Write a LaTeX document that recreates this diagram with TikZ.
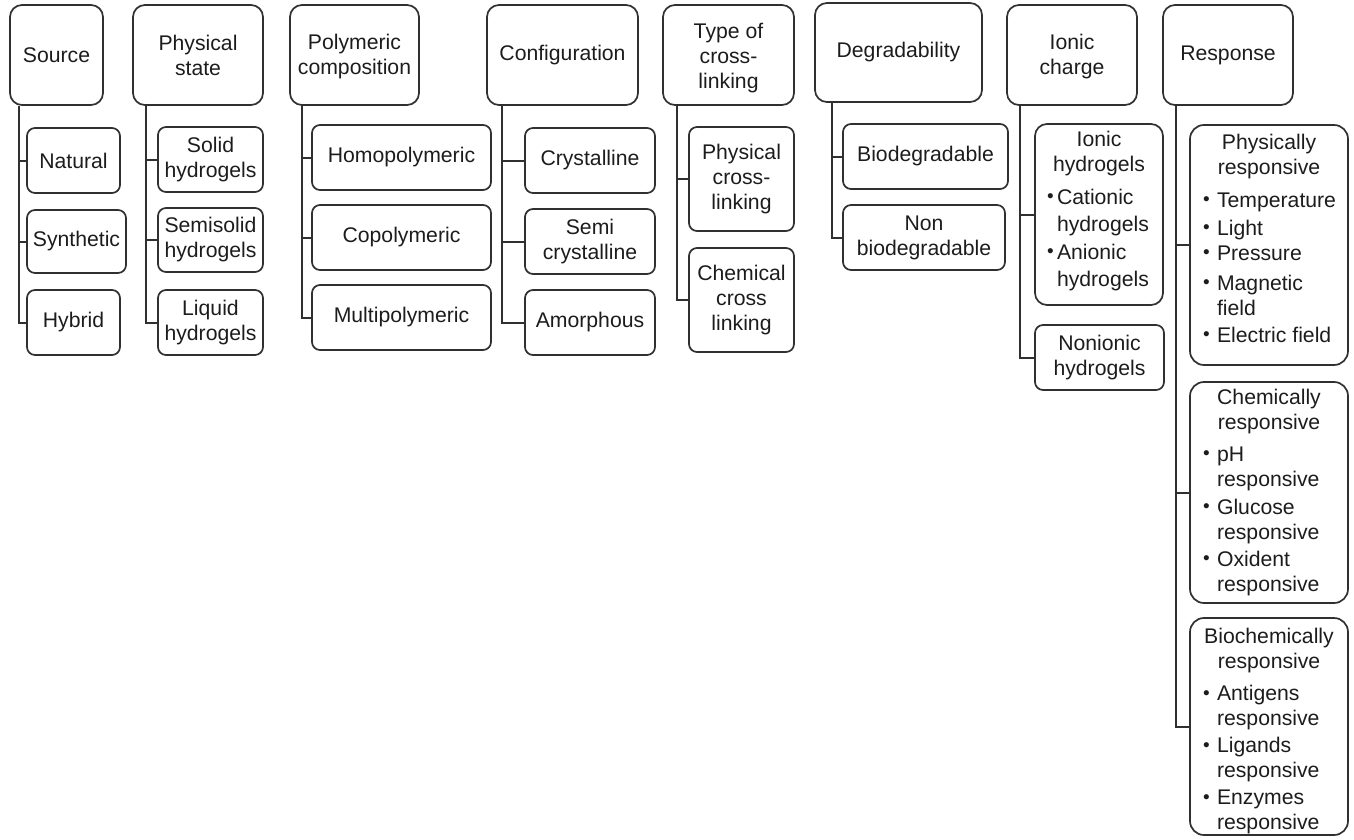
\documentclass[tikz,border=0pt]{standalone}
\usepackage{fontspec}
\setmainfont{Liberation Sans}
\definecolor{ln}{HTML}{303030}
\definecolor{tx}{HTML}{1c1c1c}
\newcommand{\hdr}[1]{\multicolumn{2}{c}{\makebox[0pt]{#1}}}
\newcommand{\bt}{\raisebox{0.1ex}{\fontsize{19}{19}\selectfont\textbullet}}
\newcommand{\shiftup}[2]{\raisebox{#1}[\height][\depth]{#2}}
\begin{document}
\begin{tikzpicture}[x=1pt,y=-1pt,
  font=\fontsize{21.2}{25}\selectfont,
  box/.style={draw=ln, line width=1.7pt, inner sep=0pt, align=center, text=tx},
  topbox/.style={box, rounded corners=12pt},
  kid/.style={box, rounded corners=8pt},
  big/.style={box, rounded corners=14pt},
  conn/.style={draw=ln, line width=2pt}]
\useasboundingbox (0,0) rectangle (1354,840);

% top categories
\node[topbox, minimum width=93, minimum height=100] (src) at (56.5,55) {Source};
\node[topbox, minimum width=130, minimum height=100] (phs) at (198,55) {Physical\\state};
\node[topbox, minimum width=129, minimum height=100] (pol) at (354.5,55) {\shiftup{-2pt}{\begin{tabular}{@{}c@{}}Polymeric\\composition\end{tabular}}};
\node[topbox, minimum width=151, minimum height=100] (cfg) at (562.5,55) {Configuration};
\node[topbox, minimum width=131, minimum height=100] (typ) at (728.5,55) {\shiftup{-4pt}{\begin{tabular}{@{}c@{}}Type of\\cross-\\linking\end{tabular}}};
\node[topbox, minimum width=167, minimum height=99] (deg) at (898.5,52.5) {Degradability};
\node[topbox, minimum width=130, minimum height=100] (ion) at (1072,55) {\shiftup{-2pt}{\begin{tabular}{@{}c@{}}Ionic\\charge\end{tabular}}};
\node[topbox, minimum width=130, minimum height=100] (rsp) at (1228,55) {Response};

% Source
\node[kid, minimum width=93, minimum height=65] (nat) at (73.5,160.5) {Natural};
\node[kid, minimum width=99, minimum height=63] (syn) at (76.5,241.5) {Synthetic};
\node[kid, minimum width=93, minimum height=65] (hyb) at (73.5,322.5) {Hybrid};
% Physical state
\node[kid, minimum width=105, minimum height=65] (sol) at (210.5,159.5) {Solid\\hydrogels};
\node[kid, minimum width=105, minimum height=64] (sem) at (210.5,240) {Semisolid\\hydrogels};
\node[kid, minimum width=105, minimum height=65] (liq) at (210.5,322.5) {Liquid\\hydrogels};
% Polymeric composition
\node[kid, minimum width=179, minimum height=65] (hom) at (401.5,157.5) {Homopolymeric};
\node[kid, minimum width=179, minimum height=65] (cop) at (401.5,237.5) {Copolymeric};
\node[kid, minimum width=179, minimum height=65] (mul) at (401.5,317.5) {Multipolymeric};
% Configuration
\node[kid, minimum width=130, minimum height=65] (cry) at (590,160.5) {Crystalline};
\node[kid, minimum width=130, minimum height=65] (scr) at (590,241.5) {Semi\\crystalline};
\node[kid, minimum width=130, minimum height=65] (amo) at (590,322.5) {Amorphous};
% Type of cross-linking
\node[kid, minimum width=105, minimum height=104] (pcl) at (741.5,179) {Physical\\cross-\\linking};
\node[kid, minimum width=105, minimum height=104] (ccl) at (741.5,300) {Chemical\\cross\\linking};
% Degradability
\node[kid, minimum width=165, minimum height=65] (bio) at (925.5,156.5) {Biodegradable};
\node[kid, minimum width=162, minimum height=65] (nbi) at (924,237.5) {Non\\biodegradable};
% Ionic charge
\node[topbox, minimum width=128, minimum height=181] (ionh) at (1099,214.5) {%
\shiftup{3.5pt}{\begin{tabular}{@{}p{10pt}@{}p{94pt}@{}}
\hdr{Ionic}\\ \hdr{hydrogels}\\[8pt]
\bt & Cationic\\[2pt] & hydrogels\\[3pt]
\bt & Anionic\\[2pt] & hydrogels
\end{tabular}}};
\node[kid, minimum width=129, minimum height=65] (nion) at (1099.5,357.5) {Nonionic\\hydrogels};
% Response
\node[big, minimum width=158, minimum height=240] (phr) at (1269,245) {%
\shiftup{4.5pt}{\begin{tabular}{@{}p{14pt}@{}p{118pt}@{}}
\hdr{Physically}\\ \hdr{responsive}\\[8pt]
\bt & Temperature\\[3pt]
\bt & Light\\[0pt]
\bt & Pressure\\[5pt]
\bt & Magnetic\\ & field\\[2pt]
\bt & Electric field
\end{tabular}}};
\node[big, minimum width=158, minimum height=221] (chr) at (1269,492.5) {%
\begin{tabular}{@{}p{14pt}@{}p{118pt}@{}}
\hdr{Chemically}\\ \hdr{responsive}\\[7pt]
\bt & pH\\ & responsive\\[3pt]
\bt & Glucose\\ & responsive\\[2pt]
\bt & Oxident\\ & responsive
\end{tabular}};
\node[big, minimum width=158, minimum height=217] (bcr) at (1269,726.5) {%
\shiftup{-5pt}{\begin{tabular}{@{}p{14pt}@{}p{118pt}@{}}
\hdr{Biochemically}\\ \hdr{responsive}\\[7pt]
\bt & Antigens\\ & responsive\\[2pt]
\bt & Ligands\\ & responsive\\[2pt]
\bt & Enzymes\\ & responsive
\end{tabular}}};

% connectors
\foreach \c in {nat,syn,hyb} \draw[conn] ([xshift=10pt]src.south west) |- (\c.west);
\foreach \c in {sol,sem,liq} \draw[conn] ([xshift=14pt]phs.south west) |- (\c.west);
\foreach \c in {hom,cop,mul} \draw[conn] ([xshift=13pt]pol.south west) |- (\c.west);
\foreach \c in {cry,scr,amo} \draw[conn] ([xshift=16pt]cfg.south west) |- (\c.west);
\foreach \c in {pcl,ccl} \draw[conn] ([xshift=15pt]typ.south west) |- (\c.west);
\foreach \c in {bio,nbi} \draw[conn] ([xshift=18pt]deg.south west) |- (\c.west);
\foreach \c in {ionh,nion} \draw[conn] ([xshift=14pt]ion.south west) |- (\c.west);
\foreach \c in {phr,chr,bcr} \draw[conn] ([xshift=14pt]rsp.south west) |- (\c.west);
\end{tikzpicture}
\end{document}
